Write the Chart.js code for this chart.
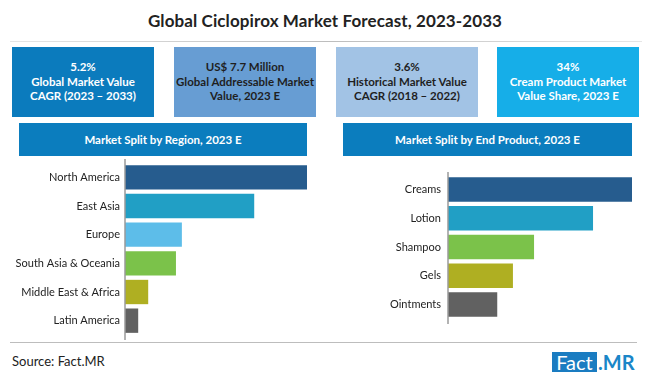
<!DOCTYPE html>
<html>
<head>
<meta charset="utf-8">
<script src="https://cdn.jsdelivr.net/npm/chart.js@4"></script>
<style>
  html, body { margin:0; padding:0; background:#fff; }
  #page { position:relative; width:650px; height:377px; overflow:hidden; font-family: Lato, "Open Sans", sans-serif; }
  .abs { position:absolute; }
  #title { left:0; width:650px; top:10px; text-align:center; font-size:17px; font-weight:700; color:#222; letter-spacing:0.1px; }
  #sep { left:10px; width:632px; top:41px; height:1px; background:linear-gradient(to right, #e6e6e6, #bdbdbd 50%, #e6e6e6); }
  .kpi { top:47px; height:70px; width:142px; display:flex; flex-direction:column; justify-content:center; align-items:center; text-align:center; font-size:11.5px; font-weight:700; line-height:14.5px; }
  .hdr { top:123px; height:33px; background:#0b7dbe; color:#fff; font-weight:700; font-size:11.5px; display:flex; align-items:center; justify-content:center; }
  #bottomline { left:10px; width:627px; top:342px; height:1px; background:#bdbdbd; }
  #source { left:12px; top:353px; font-size:13px; color:#222; }
  #logoA { left:552px; top:352px; width:45px; height:20px; background:#1a7cc1; color:#fff; font-size:20px; line-height:20px; text-align:center; }
  #logoB { left:598px; top:352px; height:20px; color:#1a86c8; font-size:20px; font-weight:700; line-height:20px; }
  canvas { position:absolute; }
</style>
</head>
<body>
<div id="page">
  <div id="title" class="abs">Global Ciclopirox Market Forecast, 2023-2033</div>
  <div id="sep" class="abs"></div>
  <div id="kpis"></div>
  <div class="abs hdr" style="left:19px; width:288px;">Market Split by Region, 2023 E</div>
  <div class="abs hdr" style="left:343px; width:289px;">Market Split by End Product, 2023 E</div>
  <canvas id="regionChart" width="297" height="181" style="left:10px; top:159px;"></canvas>
  <canvas id="productChart" width="292" height="152" style="left:340px; top:172px;"></canvas>
  <div id="bottomline" class="abs"></div>
  <div id="source" class="abs">Source: Fact.MR</div>
  <div id="logoA" class="abs">Fact</div>
  <div id="logoB" class="abs">.MR</div>
</div>
<script>
// ---- Data ----
const kpiValues = ["5.2%", "US$ 7.7 Million", "3.6%", "34%"];
const kpiLabels = ["Global Market Value<br>CAGR (2023 \u2013 2033)", "Global Addressable Market<br>Value, 2023 E", "Historical Market Value<br>CAGR (2018 \u2013 2022)", "Cream Product Market<br>Value Share, 2023 E"];
const regions = ["North America", "East Asia", "Europe", "South Asia & Oceania", "Middle East & Africa", "Latin America"];
const regionValues = [40.0, 28.4, 12.5, 11.2, 5.1, 2.9];
const products = ["Creams", "Lotion", "Shampoo", "Gels", "Ointments"];
const productValues = [34.0, 26.8, 15.9, 12.0, 9.1];

// ---- Styles ----
const kpiStyle = [
  {left:12, bg:"#0b7bbd", fg:"#ffffff"},
  {left:174, bg:"#679dd3", fg:"#1f1f1f"},
  {left:336, bg:"#a2c3e5", fg:"#1f1f1f"},
  {left:497, bg:"#16aee8", fg:"#ffffff"}
];
const regionColors = ["#265c8e", "#219fc5", "#5dbde9", "#7bc24a", "#afaf22", "#616161"];
const productColors = ["#265c8e", "#219fc5", "#7bc24a", "#afaf22", "#616161"];

const kp = document.getElementById('kpis');
kpiValues.forEach((v, i) => {
  const d = document.createElement('div');
  d.className = 'abs kpi';
  d.style.left = kpiStyle[i].left + 'px';
  d.style.background = kpiStyle[i].bg;
  d.style.color = kpiStyle[i].fg;
  d.innerHTML = v + '<br>' + kpiLabels[i];
  kp.appendChild(d);
});

// axis line spanning the whole canvas height at the chart area's left edge
const axisLine = {
  id: 'axisLine',
  afterDatasetsDraw(chart) {
    const ctx = chart.ctx, x = chart.chartArea.left;
    ctx.save();
    ctx.strokeStyle = '#9a9a9a';
    ctx.lineWidth = 1.5;
    ctx.beginPath();
    ctx.moveTo(x, 0);
    ctx.lineTo(x, chart.height);
    ctx.stroke();
    ctx.restore();
  }
};

function makeBar(id, labels, values, colors, yWidth, pad, tickPad) {
  return new Chart(document.getElementById(id), {
    type: 'bar',
    data: { labels: labels, datasets: [{ data: values, backgroundColor: colors, borderWidth: 0, barPercentage: 0.85, categoryPercentage: 1.0 }] },
    options: {
      indexAxis: 'y',
      responsive: false,
      animation: false,
      devicePixelRatio: 1,
      layout: { padding: pad },
      plugins: { legend: { display: false }, tooltip: { enabled: false } },
      scales: {
        x: { display: false, min: 0, max: Math.max(...values) },
        y: {
          grid: { display: false, drawTicks: false },
          border: { display: false },
          ticks: { color: '#222', padding: tickPad, font: { family: 'Lato', size: 11 } },
          afterFit: s => { s.width = yWidth; s.paddingTop = 0; s.paddingBottom = 0; }
        }
      }
    },
    plugins: [axisLine]
  });
}
makeBar('regionChart', regions, regionValues, regionColors, 115, {top: 4, bottom: 5, left: 0, right: 0}, 5);
makeBar('productChart', products, productValues, productColors, 108, {top: 3, bottom: 5, left: 0, right: 0}, 7);
</script>
</body>
</html>
